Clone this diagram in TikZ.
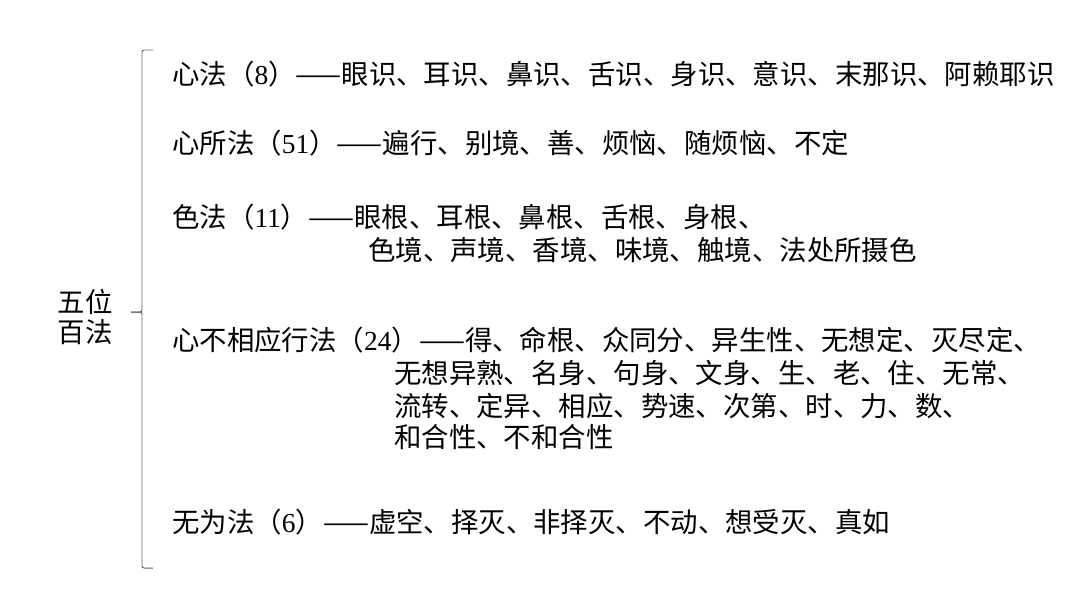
\documentclass[tikz,border=0pt]{standalone}
\usepackage{fontspec}
\setmainfont{Noto Sans CJK SC}
\newfontfamily\latinfont{Liberation Serif}
\usetikzlibrary{positioning}

\newcommand{\nm}[1]{{\latinfont #1}}

\begin{document}
\begin{tikzpicture}[
    x=0.025cm, y=-0.025cm,
    item/.style={anchor=west, inner sep=0pt, font=\fontsize{19.5pt}{23.4pt}\selectfont},
    title/.style={align=center, inner sep=0pt, font=\fontsize{19.5pt}{21.3pt}\selectfont},
    bracket/.style={draw=black!60, line width=0.7pt, rounded corners=1.5pt}
]
\useasboundingbox (0,0) rectangle (1080,608);

% 总目
\node[title] (root) at (85,317) {五位\\百法};

% 大括号
\coordinate (btop) at (153,50);
\coordinate (bbot) at (153,568);
\coordinate (btip) at (131,312);
\draw[bracket] (btop) -| (142,312) -- (btip);
\draw[bracket] (btip) -- (142,312) |- (bbot);

% 五位
\node[item] (xin)  at (172,74)  {心法（\nm{8}）——眼识、耳识、鼻识、舌识、身识、意识、末那识、阿赖耶识};
\node[item] (suo)  at (172,143) {心所法（\nm{51}）——遍行、别境、善、烦恼、随烦恼、不定};
\node[item] (se)   at (172,217) {色法（\nm{11}）——眼根、耳根、鼻根、舌根、身根、};
\node[item] (se2)  at (368,250) {色境、声境、香境、味境、触境、法处所摄色};
\node[item] (bu)   at (172,340) {心不相应行法（\nm{24}）——得、命根、众同分、异生性、无想定、灭尽定、};
\node[item] (bu2)  at (394,373) {无想异熟、名身、句身、文身、生、老、住、无常、};
\node[item] (bu3)  at (394,406) {流转、定异、相应、势速、次第、时、力、数、};
\node[item] (bu4)  at (394,437) {和合性、不和合性};
\node[item] (wu)   at (172,522) {无为法（\nm{6}）——虚空、择灭、非择灭、不动、想受灭、真如};

\end{tikzpicture}
\end{document}
